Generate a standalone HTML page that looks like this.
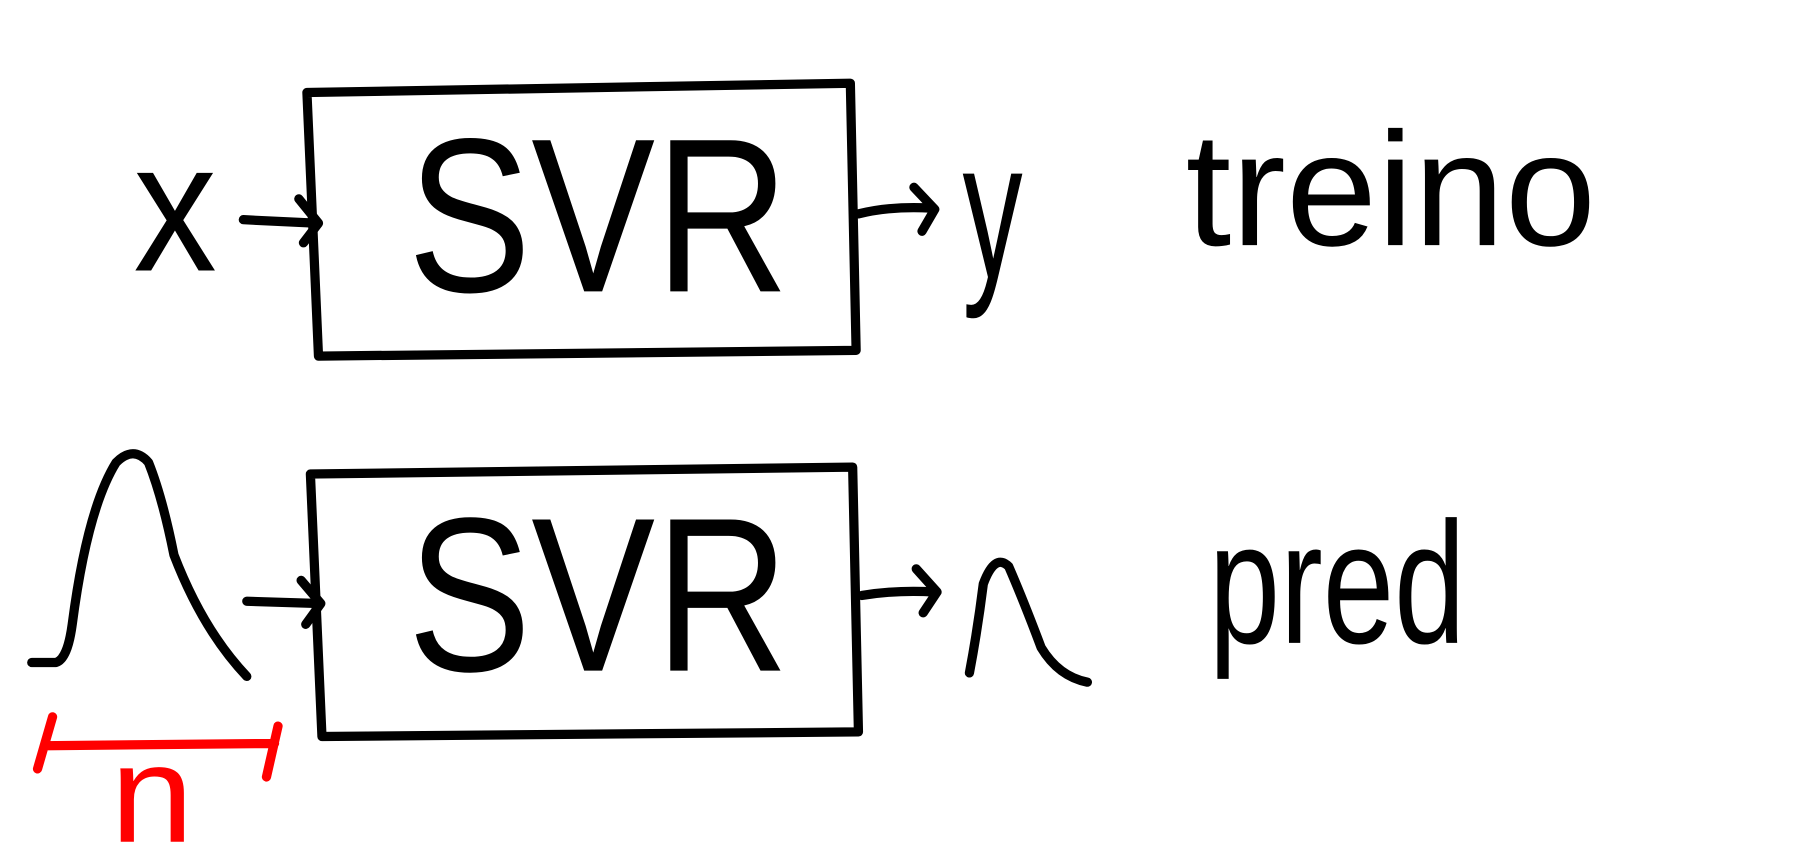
<!DOCTYPE html>
<html><head><style>html,body{margin:0;padding:0;background:#fff;}svg{display:block}</style></head>
<body>
<svg width="1814" height="866" viewBox="0 0 1568 749" xmlns="http://www.w3.org/2000/svg">
<g fill="none" stroke="#000" stroke-width="8" stroke-linecap="round" stroke-linejoin="round">
<path d="M265 80 L735 72 L740 303 L275 308 Z"/>
<path d="M268 410 L737 404 L742 633 L278 637 Z"/>
<path d="M210 190 L272 193 M258 172 L275 193 L262 210"/>
<path d="M742 185 Q770 178 805 180 M790 162 L808 181 L797 200"/>
<path d="M213 520 L275 522 M260 502 L277 522 L264 540"/>
<path d="M745 515 Q775 510 808 512 M792 492 L810 512 L798 530"/>
<path d="M27 573 L48 573 Q58 570 62 540 Q75 440 100 400 Q115 385 128 400 Q140 430 150 480 Q175 545 213 585"/>
<path d="M838 582 Q845 545 850 505 Q860 478 872 490 Q885 520 900 560 Q915 585 940 590"/>
</g>
<g fill="none" stroke="#f00" stroke-width="8" stroke-linecap="round">
<path d="M45 620 L32 665 M38 645 L237 643 M240 628 L230 672"/>
</g>
<g font-family="Liberation Sans, sans-serif" fill="#000">
<text x="352" y="252" font-size="190" textLength="330" lengthAdjust="spacingAndGlyphs">SVR</text>
<text x="352" y="580" font-size="190" textLength="330" lengthAdjust="spacingAndGlyphs">SVR</text>
<text x="115" y="234" font-size="160" textLength="72" lengthAdjust="spacingAndGlyphs">x</text>
<text x="832" y="240" font-size="170" textLength="52" lengthAdjust="spacingAndGlyphs">y</text>
<text x="1025" y="212" font-size="140" textLength="355" lengthAdjust="spacingAndGlyphs">treino</text>
<text x="1045" y="556" font-size="150" textLength="222" lengthAdjust="spacingAndGlyphs">pred</text>
<text x="95" y="728" font-size="120" fill="#f00" textLength="72" lengthAdjust="spacingAndGlyphs">n</text>
</g>
</svg>
</body></html>
